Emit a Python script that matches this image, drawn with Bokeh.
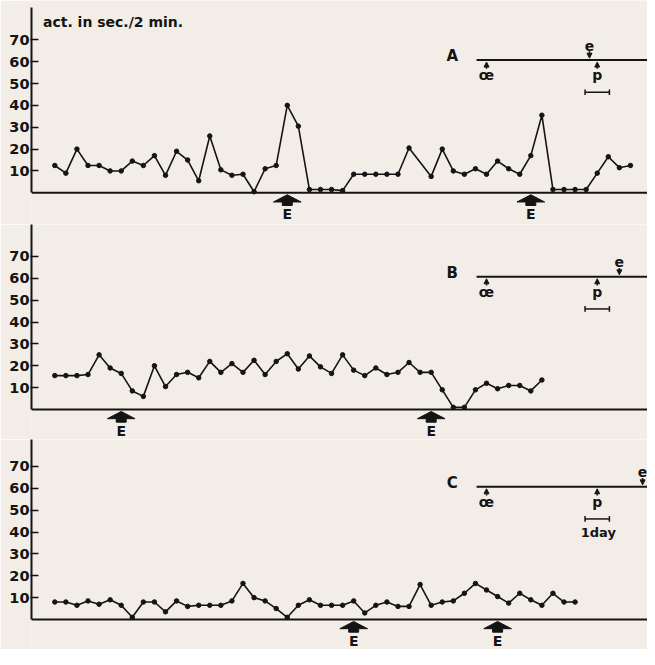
from bokeh.plotting import figure
from bokeh.layouts import column
from bokeh.models import Range1d, FixedTicker, Span, Arrow, NormalHead
from bokeh.core.properties import value
from bokeh.embed import file_html
from bokeh.resources import INLINE

# ---------------- data ----------------
A_index = list(range(0, 33)) + list(range(34, 53))
A_values = [12.5, 9, 20, 12.5, 12.5, 10, 10, 14.5, 12.5, 17, 8, 19, 15, 5.5, 26, 10.5, 8, 8.5,
            0.5, 11, 12.5, 40, 30.5, 1.5, 1.5, 1.5, 1, 8.5, 8.5, 8.5, 8.5, 8.5, 20.5,
            7.5, 20, 10, 8.5, 11, 8.5, 14.5, 11, 8.5, 17, 35.5, 1.5, 1.5, 1.5, 1.5, 9, 16.5, 11.5, 12.5]
B_index = list(range(0, 45))
B_values = [15.5, 15.5, 15.5, 16, 25, 19, 16.5, 8.5, 6, 20, 10.5, 16, 17, 14.5, 22, 17, 21, 17,
            22.5, 16, 22, 25.5, 18.5, 24.5, 19.5, 16.5, 25, 18, 15.5, 19, 16, 17, 21.5, 17, 17,
            9, 1, 1, 9, 12, 9.5, 11, 11, 8.5, 13.5]
C_index = list(range(0, 48))
C_values = [8, 8, 6.5, 8.5, 7, 9, 6.5, 1, 8, 8, 3.5, 8.5, 6, 6.5, 6.5, 6.5, 8.5, 16.5, 10, 8.5,
            5, 1, 6.5, 9, 6.5, 6.5, 6.5, 8.5, 3, 6.5, 8, 6, 6, 16, 6.5, 8, 8.5, 12, 16.5, 13.5,
            10.5, 7.5, 12, 9, 6.5, 12, 8, 8]

E_A = [21, 43]
E_B = [6, 34]
E_C = [27, 40]

y_ticks = [10, 20, 30, 40, 50, 60, 70]
panel_letters = ["A", "B", "C"]
y_label = "act. in sec./2 min."
day_text = "1day"

# timeline events (in sample-index units)
timeline_start = 38.1
oe_event = 39.0
p_event = 49.0
e_events = [48.3, 51.0, 53.1]
day_bar = (47.9, 50.1)

# ---------------- style / layout ----------------
BG = "#f2ede7"
INK = "#141414"
FONT = value("DejaVu Sans")
S = 2.186     # px per y unit
XS = 11.07    # px per sample
W = 647
LEFT = 31
X0 = -(54.3 - LEFT) / XS
X1 = X0 + (W - LEFT) / XS
TL_Y = 60.7   # timeline level


def txt(p, xs, ys, texts, size, align="center"):
    p.text(xs, ys, text=texts, text_align=align, text_baseline="middle",
           text_font=FONT, text_font_style="bold", text_font_size=size, text_color=INK)


def panel(idx, vals, e_pos, letter, e_evt, height, base_px, axis_top=None, title=None, day_label=None):
    top = base_px / S
    bottom = -(height - base_px) / S
    p = figure(width=W, height=height, x_range=Range1d(X0, X1), y_range=Range1d(bottom, top),
               x_axis_type=None, toolbar_location=None, output_backend="svg",
               min_border_left=LEFT, min_border_right=0, min_border_top=0, min_border_bottom=0,
               background_fill_color=BG, border_fill_color=BG, outline_line_color=None)
    p.grid.visible = False
    ya = p.yaxis[0]
    ya.ticker = FixedTicker(ticks=y_ticks)
    ya.bounds = (0, axis_top if axis_top else top)
    ya.axis_line_width = 2
    ya.axis_line_color = INK
    ya.major_tick_in = 7
    ya.major_tick_out = 1
    ya.major_tick_line_width = 1.5
    ya.major_tick_line_color = INK
    ya.minor_tick_line_color = None
    ya.major_label_standoff = 1
    ya.major_label_text_font = "DejaVu Sans"
    ya.major_label_text_font_style = "bold"
    ya.major_label_text_font_size = "14.5px"
    ya.major_label_text_color = INK

    p.add_layout(Span(location=0, dimension="width", line_color=INK, line_width=2))

    # data
    p.line(idx, vals, line_color=INK, line_width=1.6)
    p.scatter(idx, vals, size=4.5, fill_color=INK, line_color=INK)

    # E arrows
    xs, ys = [], []
    for xe in e_pos:
        xs.append([xe, xe + 1.25, xe + 0.45, xe + 0.45, xe - 0.45, xe - 0.45, xe - 1.25])
        ys.append([-0.9, -4.2, -4.2, -5.8, -5.8, -4.2, -4.2])
    p.patches(xs, ys, fill_color=INK, line_color=INK, line_width=1)
    txt(p, e_pos, [-9.8] * len(e_pos), ["E"] * len(e_pos), "14px")

    # timeline
    p.segment(x0=[timeline_start], y0=[TL_Y], x1=[X1 + 1], y1=[TL_Y], line_color=INK, line_width=2)
    txt(p, [35.9], [TL_Y + 1.8], [letter], "15px")
    for ex in (oe_event, p_event):
        p.add_layout(Arrow(end=NormalHead(size=5, fill_color=INK, line_color=INK, line_width=1),
                           x_start=ex, y_start=TL_Y - 4.0, x_end=ex, y_end=TL_Y - 0.9,
                           line_color=INK, line_width=1.5))
    txt(p, [oe_event, p_event], [TL_Y - 6.8, TL_Y - 6.8], ["œ", "p"], "14px")
    p.add_layout(Arrow(end=NormalHead(size=5, fill_color=INK, line_color=INK, line_width=1),
                       x_start=e_evt, y_start=TL_Y + 4.0, x_end=e_evt, y_end=TL_Y + 0.9,
                       line_color=INK, line_width=1.5))
    txt(p, [e_evt], [TL_Y + 6.6], ["e"], "14px")

    # day scale bar
    p.segment(x0=[day_bar[0]], y0=[46], x1=[day_bar[1]], y1=[46], line_color=INK, line_width=1.5)
    p.segment(x0=list(day_bar), y0=[44.7, 44.7], x1=list(day_bar), y1=[47.3, 47.3],
              line_color=INK, line_width=1.5)
    if day_label:
        txt(p, [49.1], [40.0], [day_label], "13px")

    if title:
        txt(p, [-1.07], [78.0], [title], "14px", align="left")
    return p


pA = panel(A_index, A_values, E_A, panel_letters[0], e_events[0], 224, 192.3, axis_top=84.8,
           title=y_label)
pB = panel(B_index, B_values, E_B, panel_letters[1], e_events[1], 215, 185)
pC = panel(C_index, C_values, E_C, panel_letters[2], e_events[2], 210, 180, day_label=day_text)

layout = column(pA, pB, pC, spacing=0)
open("out.html", "w").write(file_html(layout, INLINE))
